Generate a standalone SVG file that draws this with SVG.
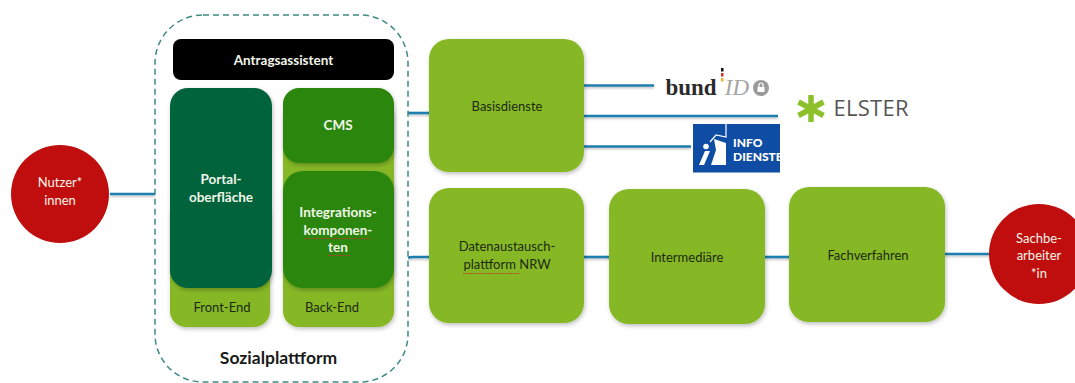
<svg xmlns="http://www.w3.org/2000/svg" width="1075" height="383" viewBox="0 0 1075 383">
<style>
text{font-family:Lato,"Liberation Sans",sans-serif;text-anchor:middle}
.lbl{font-size:13px;fill:#1c2a10}
.w{font-size:13.500px;fill:#f2f6ea;font-weight:700}
.n{font-size:13px;font-weight:400}
.g{fill:#86b825;filter:url(#s)}
.dg{fill:#2b860e;filter:url(#s)}
.c{fill:none;stroke:#1f7fae;stroke-width:2.6;filter:url(#ls)}
.sq{fill:none;stroke:#c0392b;stroke-width:1.200;stroke-dasharray:1.5 1}
</style>
<defs>
<filter id="s" x="-10%" y="-10%" width="125%" height="125%"><feDropShadow dx="1" dy="2" stdDeviation="2" flood-color="#000" flood-opacity=".25"/></filter>
<filter id="ls" filterUnits="userSpaceOnUse" x="0" y="0" width="1075" height="383"><feDropShadow dx="0" dy="1.500" stdDeviation="1" flood-color="#000" flood-opacity=".25"/></filter>
</defs>
<rect width="1075" height="383" fill="#fff"/>
<g id="connectors">
<path class="c" d="M110 194H155"/>
<path class="c" d="M408 113H430"/>
<path class="c" d="M408 258Q409 257 414 257H430"/>
<path class="c" d="M584 85.500H654"/>
<path class="c" d="M584 116H778"/>
<path class="c" d="M584 146.500H691"/>
<path class="c" d="M584 257H610"/>
<path class="c" d="M765 257H790"/>
<path class="c" d="M945 254H990"/>
</g>
<g id="nutzer"><circle cx="60" cy="194" r="49" fill="#c00d0d"/><text class="w n" x="60" y="187">Nutzer*</text><text class="w n" x="60" y="205">innen</text></g>
<g id="sozialplattform">
<rect x="155" y="15" width="253" height="367" rx="48" fill="#fff" stroke="#3e8b84" stroke-width="1.500" stroke-dasharray="6 4"/>
<text x="278.500" y="364" font-size="17.500" font-weight="700" fill="#1a1a1a">Sozialplattform</text>
</g>
<g id="antragsassistent"><rect x="173" y="39" width="221" height="41" rx="8" fill="#000"/><text class="w" x="283.500" y="64.500">Antragsassistent</text></g>
<g id="front-end"><rect class="g" x="170" y="200" width="100" height="127" rx="16"/><text class="lbl" x="222" y="312">Front-End</text></g>
<g id="back-end"><rect class="g" x="283" y="100" width="111" height="227" rx="16"/><text class="lbl" x="332" y="312">Back-End</text></g>
<g id="portal"><rect x="170" y="88" width="102" height="200" rx="18" fill="#05633a" filter="url(#s)"/><text class="w" x="221" y="184">Portal-</text><text class="w" x="221" y="202">oberfläche</text></g>
<g id="cms"><rect class="dg" x="283" y="88" width="111" height="75" rx="16"/><text class="w" x="338" y="130">CMS</text></g>
<g id="integration"><rect class="dg" x="283" y="171" width="111" height="117" rx="20"/><text class="w" x="338" y="217">Integrations-</text><text class="w" x="338" y="235">komponen-</text><text class="w" x="338" y="252">ten</text><path class="sq" d="M304 238.500H370M328 255.500H350"/></g>
<g id="basisdienste"><rect class="g" x="429" y="39" width="155" height="133" rx="20"/><text class="lbl" x="507" y="111">Basisdienste</text></g>
<g id="datenaustausch"><rect class="g" x="429" y="188" width="155" height="135" rx="20"/><text class="lbl" x="507" y="251">Datenaustausch-</text><text class="lbl" x="507" y="269">plattform NRW</text><path class="sq" d="M463 273.500H520"/></g>
<g id="intermediaere"><rect class="g" x="609" y="189" width="156" height="135" rx="20"/><text class="lbl" x="687" y="262">Intermediäre</text></g>
<g id="fachverfahren"><rect class="g" x="789" y="187" width="156" height="135" rx="20"/><text class="lbl" x="868" y="260">Fachverfahren</text></g>
<g id="sachbearbeiter"><circle cx="1039" cy="254" r="50" fill="#c00d0d"/><text class="w n" x="1039" y="243">Sachbe-</text><text class="w n" x="1039" y="260">arbeiter</text><text class="w n" x="1039" y="278">*in</text></g>
<g id="bundid">
<text x="691" y="95" font-size="23" font-weight="700" fill="#2b2b2b" style="font-family:'Liberation Serif',serif">bund</text>
<rect x="721" y="68" width="2.500" height="3.500" fill="#111"/><rect x="721" y="73" width="2.500" height="3.500" fill="#c33"/><rect x="721" y="78" width="2.500" height="3.500" fill="#e5b92e"/>
<text x="737" y="95" font-size="23" font-style="italic" fill="#a5a5a5" style="font-family:'Liberation Serif',serif">ID</text>
<circle cx="761" cy="88" r="8" fill="#9a9a9a"/><rect x="757.500" y="87" width="7" height="5" fill="#fff"/><path d="M759 87v-2a2 2 0 0 1 4 0v2" fill="none" stroke="#fff" stroke-width="1.200"/>
</g>
<g id="elster">
<path d="M811 95V122M798.500 102L823.500 115.500M823.500 102L798.500 115.500" stroke="#8cc12c" stroke-width="5.500" fill="none"/>
<text x="871" y="116" font-size="22" font-weight="400" fill="#565656" style="font-family:'Open Sans',sans-serif" textLength="75">ELSTER</text>
</g>
<g id="infodienste">
<rect x="693" y="124" width="87" height="48.500" fill="#0f4ca3"/>
<path d="M711 165L716 150L714 139L726 143V165Z" fill="#fff"/>
<path d="M699 165L705 151H710L704 165Z" fill="#fff"/>
<circle cx="706" cy="146.500" r="2.800" fill="#fff"/>
<path d="M726 124V137L716 135L710 142" fill="none" stroke="#fff" stroke-width="1.200"/>
<svg x="693" y="124" width="87" height="48.500" viewBox="0 0 87 48.500"><text x="40" y="23" font-size="12" font-weight="900" fill="#fff" style="text-anchor:start">INFO</text><text x="40" y="36.500" font-size="12" font-weight="900" fill="#fff" style="text-anchor:start">DIENSTE</text></svg>
</g>
</svg>
